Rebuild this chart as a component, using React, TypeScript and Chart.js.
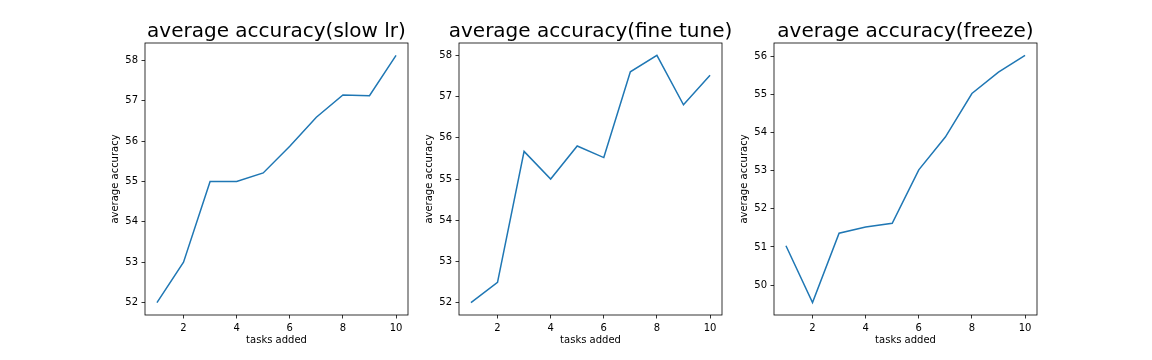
import React, { useEffect, useRef } from "react";
import { Chart, registerables } from "chart.js";

Chart.register(...registerables);

const tasks = [1, 2, 3, 4, 5, 6, 7, 8, 9, 10];
const slowLr = [52.0, 53.0, 55.0, 55.0, 55.21, 55.87, 56.59, 57.14, 57.12, 58.12];
const fineTune = [52.0, 52.49, 55.67, 55.0, 55.8, 55.52, 57.6, 58.0, 56.8, 57.52];
const freeze = [51.03, 49.54, 51.36, 51.52, 51.62, 53.02, 53.88, 55.02, 55.58, 56.02];

const xTicks = [2, 4, 6, 8, 10];
const yTicksSlow = [52, 53, 54, 55, 56, 57, 58];
const yTicksFine = [52, 53, 54, 55, 56, 57, 58];
const yTicksFreeze = [50, 51, 52, 53, 54, 55, 56];

const titles = [
  "average accuracy(slow lr)",
  "average accuracy(fine tune)",
  "average accuracy(freeze)",
];
const xLabel = "tasks added";
const yLabel = "average accuracy";

const FONT = "'DejaVu Sans', sans-serif";
const YW = 45;
const XH = 45;
const RP = 24;
const TOP = 43;
const H = 360;

const panels = [
  { left: 144.5, right: 407.3, values: slowLr, yTicks: yTicksSlow, title: titles[0] },
  { left: 459.3, right: 722.3, values: fineTune, yTicks: yTicksFine, title: titles[1] },
  { left: 774.0, right: 1036.8, values: freeze, yTicks: yTicksFreeze, title: titles[2] },
];

const boxPlugin = {
  id: "spineBox",
  afterDatasetsDraw(chart: any) {
    const { ctx, chartArea } = chart;
    ctx.save();
    ctx.strokeStyle = "#000";
    ctx.lineWidth = 0.8;
    ctx.strokeRect(chartArea.left, chartArea.top, chartArea.right - chartArea.left, chartArea.bottom - chartArea.top);
    const t = chart.options.plugins.axTitle?.text;
    if (t) {
      ctx.fillStyle = "#000";
      ctx.font = `20px ${FONT}`;
      ctx.textAlign = "center";
      ctx.textBaseline = "alphabetic";
      ctx.fillText(t, (chartArea.left + chartArea.right) / 2, 36.7);
    }
    ctx.restore();
  },
};

function Panel({ p }: { p: any }) {
  const ref = useRef<HTMLCanvasElement>(null);
  const canvasLeft = p.left - YW;
  const width = Math.round(p.right - p.left + YW + RP);
  useEffect(() => {
    const vals: number[] = p.values;
    const lo = Math.min(...vals);
    const hi = Math.max(...vals);
    const m = (hi - lo) * 0.05;
    const xlo = tasks[0];
    const xhi = tasks[tasks.length - 1];
    const xm = (xhi - xlo) * 0.05;
    const chart = new Chart(ref.current!, {
      type: "line",
      data: {
        datasets: [
          {
            data: tasks.map((t, i) => ({ x: t, y: vals[i] })),
            borderColor: "#1f77b4",
            borderWidth: 1.5,
            pointRadius: 0,
            tension: 0,
            fill: false,
          },
        ],
      },
      options: {
        animation: false,
        responsive: false,
        devicePixelRatio: 1,
        layout: { padding: { left: 0, right: RP, top: TOP, bottom: 0 } },
        plugins: {
          legend: { display: false },
          tooltip: { enabled: false },
          title: { display: false },
          axTitle: { text: p.title },
        } as any,
        scales: {
          x: {
            type: "linear",
            min: xlo - xm,
            max: xhi + xm,
            afterFit: (s: any) => {
              s.height = XH;
            },
            afterBuildTicks: (s: any) => {
              s.ticks = xTicks.map((v) => ({ value: v }));
            },
            grid: {
              display: true,
              drawOnChartArea: false,
              drawTicks: true,
              tickLength: 3.5,
              tickColor: "#000",
              lineWidth: 0.8,
            },
            border: { display: false },
            ticks: {
              color: "#000",
              font: { family: FONT, size: 10 },
              padding: 3.5,
              maxRotation: 0,
              autoSkip: false,
            },
            title: {
              display: true,
              text: xLabel,
              color: "#000",
              font: { family: FONT, size: 10 },
              padding: { top: 0, bottom: 13.5 },
            },
          },
          y: {
            type: "linear",
            min: lo - m,
            max: hi + m,
            afterFit: (s: any) => {
              s.width = YW;
            },
            afterBuildTicks: (s: any) => {
              s.ticks = p.yTicks.map((v: number) => ({ value: v }));
            },
            grid: {
              display: true,
              drawOnChartArea: false,
              drawTicks: true,
              tickLength: 3.5,
              tickColor: "#000",
              lineWidth: 0.8,
            },
            border: { display: false },
            ticks: {
              color: "#000",
              font: { family: FONT, size: 10 },
              padding: 3.5,
              autoSkip: false,
            },
            title: {
              display: true,
              text: yLabel,
              color: "#000",
              font: { family: FONT, size: 10 },
              padding: { top: 9, bottom: 0 },
            },
          },
        },
      },
      plugins: [boxPlugin],
    });
    return () => chart.destroy();
  }, []);
  return (
    <canvas
      ref={ref}
      width={width}
      height={H}
      style={{ position: "absolute", left: canvasLeft, top: 0, width, height: H }}
    />
  );
}

export default function App() {
  return (
    <div style={{ position: "absolute", left: 0, top: 0, width: 1152, height: H, background: "#fff" }}>
      {panels.map((p, i) => (
        <Panel key={i} p={p} />
      ))}
    </div>
  );
}
